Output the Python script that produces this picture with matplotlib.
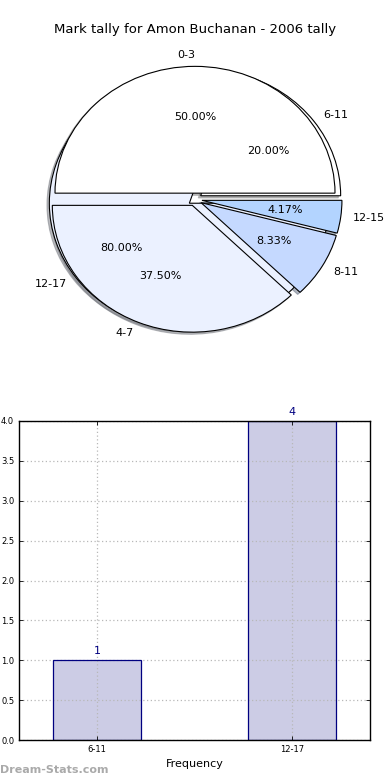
import matplotlib
matplotlib.use("Agg")
import matplotlib.pyplot as plt

title = "Mark tally for Amon Buchanan - 2006 tally"

# outer (first) pie
pie1_labels = ["6-11", "12-17"]
pie1_values = [1, 4]
pie1_colors = ["#ffffff", "#ebf1ff"]

# second pie
pie2_labels = ["0-3", "4-7", "8-11", "12-15"]
pie2_values = [12, 9, 2, 1]
pie2_colors = ["#ffffff", "#ebf1ff", "#c5d9ff", "#b3d4ff"]

bar_categories = ["6-11", "12-17"]
bar_values = [1, 4]

fig = plt.figure(figsize=(3.9, 7.8), dpi=100)

shadow = dict(ox=-0.012, oy=-0.012, shade=0.5)

# Pie axes
ax1 = fig.add_axes([20/390, 1 - 358/780, 350/390, 317/780])
ax1.pie(pie1_values, labels=pie1_labels, colors=pie1_colors, explode=[0.05]*2,
        autopct="%1.2f%%", shadow=shadow, startangle=0, labeldistance=1.08,
        wedgeprops=dict(edgecolor="black", linewidth=0.8),
        textprops=dict(fontsize=8))
ax1.pie(pie2_values, labels=pie2_labels, colors=pie2_colors, explode=[0.05]*4,
        autopct="%1.2f%%", shadow=shadow, startangle=0, labeldistance=1.09,
        wedgeprops=dict(edgecolor="black", linewidth=0.8),
        textprops=dict(fontsize=8))
ax1.set_aspect("auto")
ax1.set_xlim(-1.25, 1.25)
ax1.set_ylim(-1.25, 1.25)
fig.text(0.5, 1 - 30/780, title, ha="center", va="center", fontsize=9.5)

# Bar axes
ax2 = fig.add_axes([19/390, 1 - 740/780, 351/390, 319/780])
x = list(range(len(bar_categories)))
ax2.bar(x, bar_values, width=0.45, color="#ccccE5", edgecolor="none", zorder=2)
ax2.bar(x, bar_values, width=0.45, fill=False, edgecolor="navy",
        linewidth=0.9, zorder=2.6)
for xi, v in zip(x, bar_values):
    ax2.text(xi, v + 0.05, str(v), ha="center", va="bottom", color="navy", fontsize=8)
ax2.set_xlim(-0.4, 1.4)
ax2.set_ylim(0, 4)
ax2.set_xticks(x)
ax2.set_xticklabels(bar_categories)
ax2.set_yticks([i * 0.5 for i in range(9)])
ax2.tick_params(labelsize=6, direction="in", top=True, right=True, length=3, width=0.6)
ax2.set_axisbelow(False)
ax2.grid(True, linestyle=(0, (1, 2)), color="#b8b8b8", linewidth=0.9)
ax2.set_xlabel("Frequency", fontsize=8, labelpad=4)
for s in ax2.spines.values():
    s.set_linewidth(1)
    s.set_zorder(3)

fig.text(0.0, 1 - 770/780, "Dream-Stats.com", color="#aaaaaa", fontsize=8,
         fontweight="bold", ha="left", va="center")

fig.savefig("out.png", dpi=100)
